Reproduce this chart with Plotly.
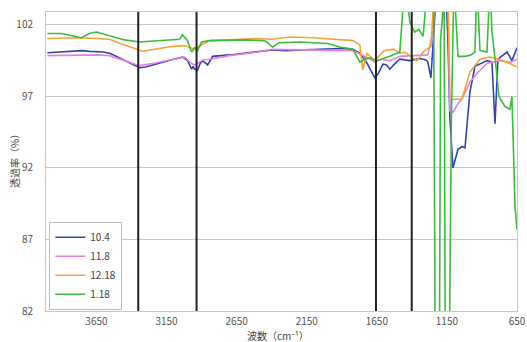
import plotly.graph_objects as go

# ---- data ----
wn_a = [4000, 3900, 3800, 3750, 3700, 3600, 3550, 3450, 3343, 3300, 3200, 3100, 3036, 3000, 2971, 2960,
        2950, 2929, 2910, 2893, 2857, 2821, 2700, 2600, 2500, 2393, 2300, 2200, 2100, 2000, 1914, 1821,
        1771, 1736, 1700, 1664, 1640, 1607, 1580, 1557, 1530, 1486, 1414, 1343, 1300, 1286, 1264, 1250,
        1236, 1221, 1160, 1143, 1129, 1107, 1071, 1043, 1021, 986, 950, 864, 829, 807, 786, 721, 686, 650]
t_a = [100.05, 100.1, 100.15, 100.2, 100.15, 100.1, 100.0, 99.5, 99.0, 99.05, 99.35, 99.6, 99.75, 99.5, 98.9, 99.1,
       98.9, 98.85, 99.3, 99.5, 99.2, 99.8, 99.9, 100.0, 100.1, 100.25, 100.2, 100.25, 100.3, 100.3, 100.35, 100.3,
       100.0, 99.6, 99.0, 98.3, 98.6, 99.25, 99.2, 98.9, 99.2, 99.6, 99.5, 99.65, 99.55, 99.4, 98.3, 100.5,
       103.5, 105, 105, 101, 95.6, 92.0, 93.3, 93.5, 93.4, 97.3, 99.1, 99.5, 99.4, 95.1, 99.6, 100.1, 99.5, 100.4]

wn_b = [4000, 3800, 3650, 3557, 3450, 3343, 3250, 3100, 3021, 2971, 2950, 2929, 2893, 2843, 2700, 2500,
        2393, 2200, 1914, 1821, 1736, 1664, 1620, 1557, 1486, 1414, 1343, 1286, 1250, 1221, 1143, 1129,
        1107, 1071, 1043, 986, 936, 864, 779, 693, 650]
t_b = [99.85, 99.9, 99.9, 99.85, 99.5, 99.15, 99.3, 99.6, 99.74, 99.3, 99.2, 99.3, 99.55, 99.6, 99.85, 100.1,
       100.3, 100.25, 100.2, 100.2, 99.8, 99.4, 99.6, 99.5, 99.8, 99.85, 99.85, 99.9, 101.5, 105, 104, 96.0,
       95.9, 96.5, 96.8, 98.0, 98.6, 99.3, 99.5, 99.4, 99.6]

wn_c = [4000, 3800, 3650, 3557, 3450, 3321, 3200, 3100, 3021, 2950, 2920, 2843, 2700, 2500, 2400, 2271,
        2100, 1914, 1821, 1771, 1750, 1720, 1664, 1600, 1530, 1486, 1450, 1364, 1320, 1264, 1236, 1143,
        1129, 1043, 986, 914, 843, 779, 700, 650]
t_c = [101.05, 101.1, 101.05, 101.0, 100.6, 100.16, 100.35, 100.5, 100.55, 100.3, 100.5, 100.9, 100.95, 101.05, 101.0, 101.15,
       101.1, 101.0, 100.9, 100.6, 98.85, 100.0, 99.5, 100.2, 100.3, 100.0, 100.1, 99.5, 100.1, 100.5, 105, 105,
       96.8, 96.8, 98.7, 99.6, 99.75, 99.6, 99.3, 99.05]

wn_d = [4000, 3900, 3757, 3700, 3650, 3550, 3450, 3343, 3200, 3057, 3036, 3000, 2971, 2950, 2929, 2900,
        2843, 2600, 2450, 2393, 2350, 2200, 2000, 1914, 1821, 1771, 1736, 1700, 1650, 1557, 1486, 1470,
        1450, 1414, 1380, 1350, 1320, 1286, 1264, 1245, 1234, 1203, 1195, 1170, 1162, 1132, 1118, 1100,
        1071, 1021, 979, 950, 936, 914, 864, 843, 829, 800, 779, 736, 700, 686, 664, 650]
t_d = [101.4, 101.4, 101.1, 101.4, 101.5, 101.2, 100.95, 100.8, 100.9, 101.0, 101.3, 100.9, 100.1, 100.4, 100.2, 100.8,
       100.9, 100.95, 100.9, 100.45, 100.75, 100.8, 100.7, 100.45, 100.3, 99.4, 99.6, 99.7, 99.5, 99.8, 100.1, 102,
       105, 102.2, 101.5, 101.7, 101.2, 105, 104, 104, 80, 80, 101, 104, 80, 80, 95.4, 105,
       99.8, 99.8, 99.9, 100.1, 105, 100.2, 100.1, 105, 101.5, 99.1, 97.0, 96.3, 96.1, 97.0, 89.3, 87.7]

series_names = ["10.4", "11.8", "12.18", "1.18"]
series_colors = ["#3346b0", "#e681dc", "#f2a43a", "#3dbb3d"]
marker_lines = [3352, 2936, 1656, 1401]

x_ticks = [3650, 3150, 2650, 2150, 1650, 1150, 650]
y_ticks = [82, 87, 92, 97, 102]
x_title = "波数（cm⁻¹）"
y_title = "透過率（%）"

fig = go.Figure()
for wn, t, name, col in zip([wn_a, wn_b, wn_c, wn_d], [t_a, t_b, t_c, t_d], series_names, series_colors):
    fig.add_trace(go.Scatter(x=wn, y=t, mode="lines", name=name,
                             line=dict(color=col, width=1.6)))

for xv in marker_lines:
    fig.add_shape(type="line", xref="x", yref="paper", x0=xv, x1=xv, y0=0, y1=1,
                  line=dict(color="#222222", width=2))

# axis titles as annotations for exact placement
fig.add_annotation(text=x_title, xref="paper", yref="paper", x=0.5, y=0,
                   xanchor="center", yanchor="middle", yshift=-24.5, xshift=-4, showarrow=False,
                   font=dict(size=10, color="#444444"))
fig.add_annotation(text=y_title, xref="paper", yref="paper", x=0, y=0.51,
                   xanchor="center", yanchor="middle", xshift=-31.5, textangle=-90,
                   showarrow=False, font=dict(size=10, color="#444444"))

fig.update_layout(
    width=527, height=342,
    margin=dict(l=46, r=10, t=12, b=31),
    paper_bgcolor="white", plot_bgcolor="white",
    font=dict(family="Noto Sans CJK JP, Noto Sans, sans-serif", size=10, color="#555555"),
    legend=dict(x=0.007, y=0.004, xanchor="left", yanchor="bottom",
                bgcolor="white", bordercolor="#bfbfbf", borderwidth=1,
                font=dict(size=10, color="#444444"), tracegroupgap=0,
                itemwidth=30),
    showlegend=True,
)
fig.update_xaxes(range=[4010, 650], tickvals=x_ticks, ticktext=[str(v) for v in x_ticks],
                 automargin=False, ticklabelstandoff=1,
                 showgrid=False, showline=True, linecolor="#c8c8c8", linewidth=1, mirror=True,
                 ticks="", tickfont=dict(size=10, color="#555555"))
fig.update_yaxes(range=[82, 102.9], tickvals=y_ticks, ticktext=[str(v) for v in y_ticks],
                 automargin=False, ticklabelstandoff=10,
                 showgrid=True, gridcolor="#c8c8c8", gridwidth=1, zeroline=False,
                 showline=True, linecolor="#c8c8c8", linewidth=1, mirror=True,
                 ticks="", tickfont=dict(size=10, color="#555555"))

fig.write_html("out.html")
